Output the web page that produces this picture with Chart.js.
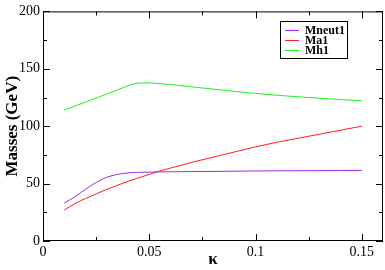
<!DOCTYPE html>
<html>
<head>
<meta charset="utf-8">
<script src="https://cdn.jsdelivr.net/npm/chart.js@4/dist/chart.umd.min.js"></script>
<style>
  html, body { margin: 0; padding: 0; background: #fff; }
  #wrap { width: 385px; height: 270px; }
</style>
</head>
<body>
<div id="wrap"><canvas id="myCanvas"></canvas></div>
<script>
'use strict';

// values
let kappa = [0.01, 0.015, 0.02, 0.025, 0.03, 0.035, 0.04, 0.045, 0.05, 0.055, 0.06, 0.07, 0.08, 0.09, 0.1, 0.11, 0.12, 0.13, 0.14, 0.15];
let mneut1 = [33, 38.5, 45, 51, 55.5, 58, 59.3, 59.8, 60, 60.2, 60.3, 60.5, 60.6, 60.8, 61, 61.1, 61.2, 61.3, 61.4, 61.5];
let ma1 = [27, 32.5, 37, 41, 45, 48.5, 52, 55, 58, 61, 63.5, 68.5, 73, 77.5, 82, 86, 89.5, 93, 96.5, 100];
let mh1 = [114, 117.5, 121, 124.5, 128, 131.5, 135.2, 137.5, 137.7, 137.1, 136.3, 134.3, 132.3, 130.3, 128.6, 127, 125.6, 124.4, 123.2, 122.2];
let seriesNames = ['Mneut1', 'Ma1', 'Mh1'];
let seriesColors = ['rgb(160,40,230)', 'rgb(255,30,30)', 'rgb(30,240,30)'];
let xTicks = [0, 0.05, 0.1, 0.15];
let yTicks = [0, 50, 100, 150, 200];

function points(values) {
  let out = [];
  for (let i = 0; i < kappa.length; i++) {
    out.push({ x: kappa[i], y: values[i] });
  }
  return out;
}

// frame with inward ticks on all four sides, plus the boxed legend
const framePlugin = {
  id: 'frame',
  afterDraw(chart) {
    const ctx = chart.ctx;
    const a = chart.chartArea;
    const xs = chart.scales.x;
    const ys = chart.scales.y;
    ctx.save();
    ctx.strokeStyle = '#000';
    ctx.lineWidth = 1;
    ctx.strokeRect(a.left + 0.5, a.top + 0.5, a.right - a.left - 1, a.bottom - a.top - 1);
    ctx.beginPath();
    for (let v = 0; v <= 0.16; v += 0.025) {
      let px = Math.round(xs.getPixelForValue(v)) + 0.5;
      let major = Math.abs(v / 0.05 - Math.round(v / 0.05)) < 1e-6;
      let len = major ? 7 : 4;
      ctx.moveTo(px, a.bottom); ctx.lineTo(px, a.bottom - len);
      ctx.moveTo(px, a.top); ctx.lineTo(px, a.top + len);
    }
    for (let v = 0; v <= 200; v += 25) {
      let py = Math.round(ys.getPixelForValue(v)) + 0.5;
      let len = (v % 50 === 0) ? 7 : 4;
      ctx.moveTo(a.left, py); ctx.lineTo(a.left + len, py);
      ctx.moveTo(a.right, py); ctx.lineTo(a.right - len, py);
    }
    ctx.stroke();

    // legend box
    let bx = 280.5, by = 21.5, bw = 67, bh = 37;
    ctx.strokeRect(bx, by, bw, bh);
    ctx.font = 'bold 12px "Liberation Serif"';
    ctx.textBaseline = 'middle';
    ctx.fillStyle = '#000';
    for (let i = 0; i < seriesNames.length; i++) {
      let ry = 30.5 + i * 10;
      ctx.strokeStyle = seriesColors[i];
      ctx.beginPath();
      ctx.moveTo(285, ry); ctx.lineTo(299, ry);
      ctx.stroke();
      ctx.fillText(seriesNames[i], 305, ry);
    }
    ctx.restore();
  }
};

let datasets = [];
let allValues = [mneut1, ma1, mh1];
for (let i = 0; i < seriesNames.length; i++) {
  datasets.push({
    label: seriesNames[i],
    data: points(allValues[i]),
    borderColor: seriesColors[i],
    borderWidth: 1,
    pointRadius: 0,
    fill: false,
    cubicInterpolationMode: 'monotone'
  });
}

const config = {
  type: 'line',
  data: { datasets: datasets },
  options: {
    responsive: true,
    maintainAspectRatio: false,
    animation: false,
    layout: { padding: { top: 5, right: 2, left: 0, bottom: 0 } },
    plugins: { legend: { display: false }, tooltip: { enabled: false } },
    scales: {
      x: {
        type: 'linear',
        min: 0,
        max: 0.16,
        afterFit(scale) { scale.height = 29; },
        afterBuildTicks(scale) { scale.ticks = xTicks.map(v => ({ value: v })); },
        grid: { display: false, drawTicks: false },
        border: { display: false },
        ticks: {
          color: '#000',
          padding: 3,
          maxRotation: 0,
          font: { family: '"Liberation Serif"', size: 14 },
          callback: v => String(v)
        },
        title: {
          display: true,
          text: 'κ',
          color: '#000',
          padding: { top: -2, bottom: 0 },
          font: { family: '"Liberation Serif"', size: 17, weight: 'bold' }
        }
      },
      y: {
        min: 0,
        max: 200,
        afterFit(scale) { scale.width = 43; },
        afterBuildTicks(scale) { scale.ticks = yTicks.map(v => ({ value: v })); },
        grid: { display: false, drawTicks: false },
        border: { display: false },
        ticks: {
          color: '#000',
          padding: 3,
          font: { family: '"Liberation Serif"', size: 14 }
        },
        title: {
          display: true,
          text: 'Masses (GeV)',
          color: '#000',
          padding: { top: 2, bottom: 0 },
          font: { family: '"Liberation Serif"', size: 17, weight: 'bold' }
        }
      }
    }
  },
  plugins: [framePlugin]
};

new Chart(document.getElementById('myCanvas'), config);
</script>
</body>
</html>
